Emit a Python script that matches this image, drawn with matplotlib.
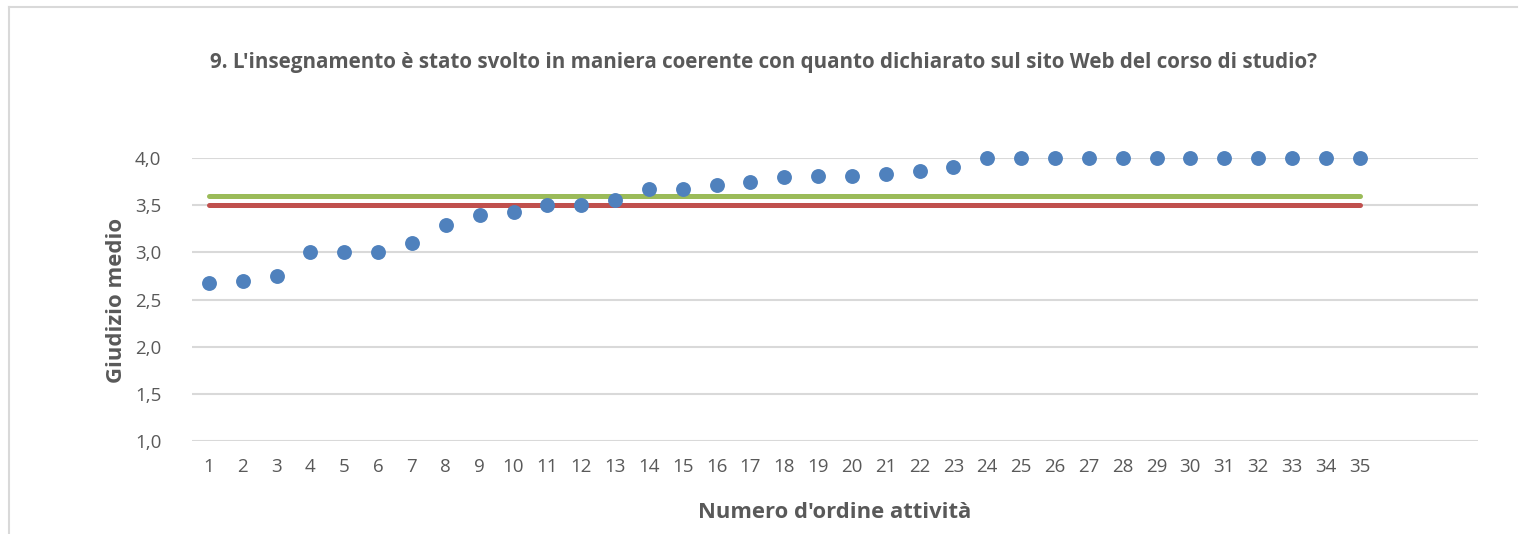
import matplotlib
matplotlib.use("Agg")
import matplotlib.pyplot as plt
from matplotlib.ticker import FuncFormatter, FixedLocator
from matplotlib.lines import Line2D

categories = list(range(1, 36))
values = [2.67, 2.70, 2.75, 3.00, 3.00, 3.00, 3.10, 3.29, 3.40, 3.43,
          3.50, 3.50, 3.55, 3.67, 3.67, 3.71, 3.75, 3.80, 3.81, 3.81,
          3.83, 3.86, 3.90, 4.00, 4.00, 4.00, 4.00, 4.00, 4.00, 4.00,
          4.00, 4.00, 4.00, 4.00, 4.00]
green_ref = [3.6] * 35
red_ref = [3.5] * 35
yticks = [1.0, 1.5, 2.0, 2.5, 3.0, 3.5, 4.0]

title = "9. L'insegnamento è stato svolto in maniera coerente con quanto dichiarato sul sito Web del corso di studio?"
xlabel = "Numero d'ordine attività"
ylabel = "Giudizio medio"

W, H = 1528, 534
fig = plt.figure(figsize=(W / 100, H / 100), dpi=100)
plt.rcParams['font.family'] = ['Open Sans', 'DejaVu Sans']

TXT = '#595959'
ax = fig.add_axes([192 / W, 1 - 441 / H, (1478 - 192) / W, (441 - 158) / H])
ax.set_xlim(0.5, 38.5)
ax.set_ylim(1.0, 4.0)
ax.yaxis.set_major_locator(FixedLocator(yticks))
ax.yaxis.set_major_formatter(FuncFormatter(lambda v, p: f"{v:.1f}".replace('.', ',')))
ax.set_xticks(categories)
ax.set_xticklabels([str(c) for c in categories])
ax.grid(axis='y', color='#D9D9D9', linewidth=1.5)
ax.set_axisbelow(True)
for s in ax.spines.values():
    s.set_visible(False)
ax.tick_params(axis='both', length=0, colors=TXT, labelsize=13.5)
ax.tick_params(axis='x', pad=12)
ax.tick_params(axis='y', pad=22)

ax.plot(categories, green_ref, color='#9BBB59', linewidth=3.6, solid_capstyle='round', zorder=3)
ax.plot(categories, red_ref, color='#C0504D', linewidth=3.6, solid_capstyle='round', zorder=3)
ax.scatter(categories, values, s=115, color='#4F81BD', zorder=4, clip_on=False, linewidths=0)

t = fig.text(764 / W, 1 - 62 / H, title, ha='center', va='center', fontsize=14,
             fontweight='bold', color=TXT)
xl = fig.text(835 / W, 1 - 512 / H, xlabel, ha='center', va='center', fontsize=14,
              fontweight='bold', color=TXT)
yl = fig.text(116 / W, 1 - 300 / H, ylabel, ha='center', va='center', fontsize=14,
              fontweight='bold', color=TXT, rotation=90)

# fit text widths to reference
fig.canvas.draw()
r = fig.canvas.get_renderer()
for obj, target, horiz in [(t, 1118, True), (xl, 274, True), (yl, 165, False)]:
    bb = obj.get_window_extent(r)
    cur = bb.width if horiz else bb.height
    obj.set_fontsize(obj.get_fontsize() * target / cur)

# chart border
fig.add_artist(Line2D([9 / W, 9 / W], [0, 1 - 7 / H], color='#D9D9D9', linewidth=1.5, transform=fig.transFigure))
fig.add_artist(Line2D([9 / W, 1517 / W], [1 - 7 / H, 1 - 7 / H], color='#D9D9D9', linewidth=1.5, transform=fig.transFigure))

fig.savefig('out.png', dpi=100, facecolor='white')
